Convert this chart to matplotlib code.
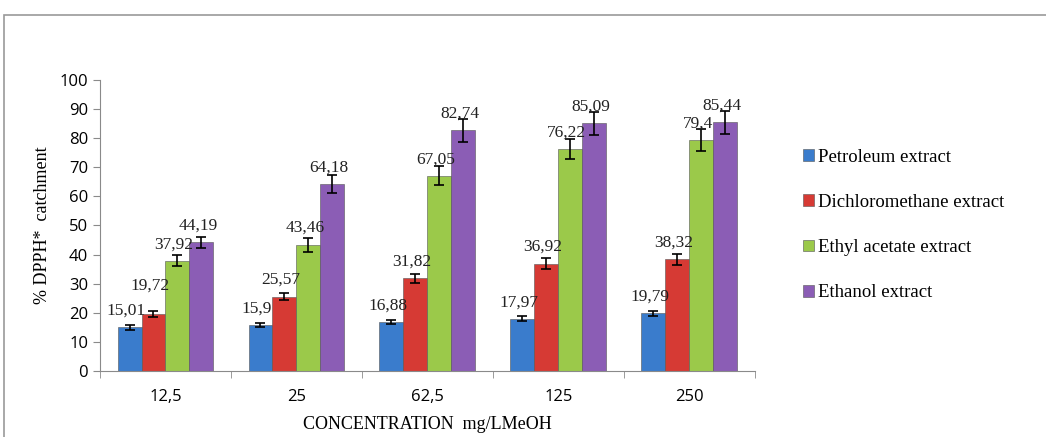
import matplotlib.pyplot as plt
import numpy as np
from matplotlib.patches import Rectangle, Patch

concentrations = ['12,5', '25', '62,5', '125', '250']
series_names = ['Petroleum extract', 'Dichloromethane extract',
                'Ethyl acetate extract', 'Ethanol extract']
petroleum = [15.01, 15.9, 16.88, 17.97, 19.79]
dichloromethane = [19.72, 25.57, 31.82, 36.92, 38.32]
ethyl_acetate = [37.92, 43.46, 67.05, 76.22, 79.4]
ethanol = [44.19, 64.18, 82.74, 85.09, 85.44]
petroleum_err = [0.8, 0.7, 0.8, 0.8, 1.0]
dichloromethane_err = [1.0, 1.2, 1.5, 1.8, 2.0]
ethyl_acetate_err = [2.0, 2.4, 3.3, 3.5, 3.7]
ethanol_err = [2.0, 3.0, 4.0, 4.0, 4.0]

colors = ['#3a7ccc', '#d63a34', '#9bc94a', '#8b5db5']
values = [petroleum, dichloromethane, ethyl_acetate, ethanol]
errors = [petroleum_err, dichloromethane_err, ethyl_acetate_err, ethanol_err]

serif = 'Liberation Serif'
sans = 'Open Sans'

fig = plt.figure(figsize=(10.46, 4.37), dpi=100)
ax = fig.add_axes([0.0956, 0.151, 0.626, 0.666])

# outer chart border (left + top only visible)
fig.patches.append(Rectangle((4 / 1046, -0.1), 1.2, 1 - 15 / 437 + 0.1,
                             transform=fig.transFigure, fill=False,
                             edgecolor='#9a9a9a', lw=1.2, zorder=0))

x = np.arange(len(concentrations))
w = 0.183
for i, (vals, errs, c) in enumerate(zip(values, errors, colors)):
    pos = x + (i - 1.5) * w
    ax.bar(pos, vals, width=w, color=c, edgecolor='#555555', lw=0.4, zorder=2)
    ax.errorbar(pos, vals, yerr=errs, fmt='none', ecolor='black',
                elinewidth=1.2, capsize=3.5, capthick=1.2, zorder=3)
    for j, (p, v) in enumerate(zip(pos, vals)):
        label = f'{v:g}'.replace('.', ',')
        # excel label sits a fixed distance above the bar; one was moved up by hand
        dy = 17 if (i == 1 and j == 0) else 9
        ax.annotate(label, (p, v), xytext=(-2.5, dy), textcoords='offset points',
                    ha='center', va='baseline', fontsize=12.5, family=serif,
                    color='#222222', zorder=4)

ax.set_xlim(-0.5, len(concentrations) - 0.5)
ax.set_ylim(0, 100)
ax.set_yticks(range(0, 101, 10))
ax.set_xticks(x)
ax.set_xticklabels(concentrations, fontsize=12, family=sans)
ax.set_xticks(np.arange(-0.5, len(concentrations)), minor=True)
ax.tick_params(axis='x', which='major', length=0, pad=13)
ax.tick_params(axis='x', which='minor', length=5, color='#8a8a8a')
ax.tick_params(axis='y', length=5, color='#8a8a8a', labelsize=12)
for t in ax.get_yticklabels():
    t.set_family(sans)
for s in ['top', 'right']:
    ax.spines[s].set_visible(False)
for s in ['left', 'bottom']:
    ax.spines[s].set_color('#8a8a8a')

ax.set_ylabel('% DPPH*  catchment', family=serif, fontsize=13, labelpad=6)
ax.set_xlabel('CONCENTRATION  mg/LMeOH', family=serif, fontsize=13, labelpad=8)

handles = [Patch(facecolor=c, edgecolor='#555555', lw=0.4) for c in colors]
fig.legend(handles, series_names, loc='upper left',
           bbox_to_anchor=(0.7515, 0.698), frameon=False,
           prop={'family': serif, 'size': 13.5}, handlelength=0.6,
           handleheight=0.6, handletextpad=0.2, labelspacing=1.5)

fig.savefig('out.png', dpi=100)
